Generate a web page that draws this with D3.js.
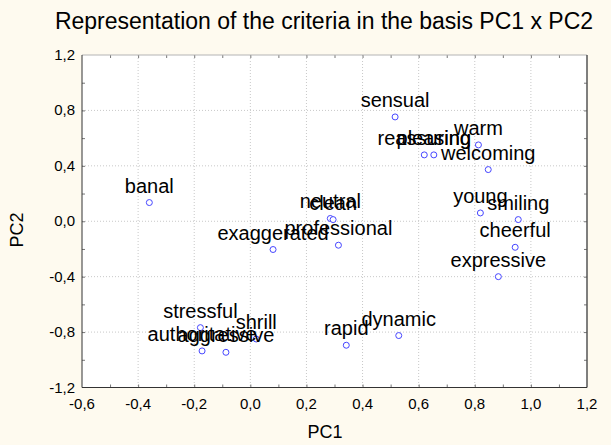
<!DOCTYPE html>
<html>
<head>
<meta charset="utf-8">
<script src="https://cdn.jsdelivr.net/npm/d3@7"></script>
<style>
	body { margin: 0; background: #fefaef; }
	text { font-family: Arial, "Liberation Sans", sans-serif; fill: #000; }
</style>
</head>
<body>
<script>

// criteria labels and their coordinates
var criteria = ["sensual", "reassuring", "pleasing", "warm", "welcoming", "banal",
	"neutral", "clean", "professional", "exaggerated", "young", "smiling",
	"cheerful", "expressive", "stressful", "authoritative", "aggressive",
	"shrill", "rapid", "dynamic"];
var pc1 = [0.516, 0.620, 0.654, 0.813, 0.848, -0.360,
	0.285, 0.295, 0.314, 0.081, 0.820, 0.955,
	0.944, 0.884, -0.178, -0.172, -0.087,
	0.021, 0.342, 0.529];
var pc2 = [0.753, 0.479, 0.479, 0.551, 0.373, 0.135,
	0.020, 0.012, -0.173, -0.204, 0.060, 0.012,
	-0.188, -0.400, -0.768, -0.936, -0.946,
	-0.850, -0.895, -0.825];

var xTicks = [-0.6, -0.4, -0.2, 0.0, 0.2, 0.4, 0.6, 0.8, 1.0, 1.2];
var yTicks = [-1.2, -0.8, -0.4, 0.0, 0.4, 0.8, 1.2];

var W = 611, H = 445;
var pLeft = 82, pRight = 587, pTop = 55, pBottom = 387.5;

var x = d3.scaleLinear().domain([-0.6, 1.2]).range([pLeft, pRight]);
var y = d3.scaleLinear().domain([-1.2, 1.2]).range([pBottom, pTop]);

var fmt = function (v) { return d3.format(".1f")(v).replace(".", ",").replace("−", "-"); };

var svg = d3.select("body").append("svg")
	.attr("width", W)
	.attr("height", H);

svg.append("rect")
	.attr("width", W).attr("height", H)
	.attr("fill", "#fefaef");

// plot area
svg.append("rect")
	.attr("x", pLeft).attr("y", pTop)
	.attr("width", pRight - pLeft).attr("height", pBottom - pTop)
	.attr("fill", "#fff");

// dotted grid
svg.append("g").selectAll("line")
	.data(xTicks.slice(1, -1))
	.enter().append("line")
	.attr("x1", function (d) { return x(d); })
	.attr("x2", function (d) { return x(d); })
	.attr("y1", pTop).attr("y2", pBottom)
	.attr("stroke", "#c8c8c8")
	.attr("stroke-dasharray", "1,2");

svg.append("g").selectAll("line")
	.data(yTicks.slice(1, -1))
	.enter().append("line")
	.attr("y1", function (d) { return y(d); })
	.attr("y2", function (d) { return y(d); })
	.attr("x1", pLeft).attr("x2", pRight)
	.attr("stroke", "#c8c8c8")
	.attr("stroke-dasharray", "1,2");

// inner ticks
var xMinor = d3.range(-0.5, 1.2, 0.1);
var yMinor = d3.range(-1.0, 1.2, 0.2);

function noDomain(g) { g.select(".domain").remove(); }

svg.append("g")
	.attr("transform", "translate(0," + pBottom + ")")
	.call(d3.axisTop(x).tickValues(xMinor).tickSize(3).tickFormat(""))
	.call(noDomain)
	.selectAll("line").attr("stroke", "#777");

svg.append("g")
	.attr("transform", "translate(0," + pTop + ")")
	.call(d3.axisBottom(x).tickValues(xMinor).tickSize(3).tickFormat(""))
	.call(noDomain)
	.selectAll("line").attr("stroke", "#777");

svg.append("g")
	.attr("transform", "translate(" + pLeft + ",0)")
	.call(d3.axisRight(y).tickValues(yMinor).tickSize(3).tickFormat(""))
	.call(noDomain)
	.selectAll("line").attr("stroke", "#777");

svg.append("g")
	.attr("transform", "translate(" + pRight + ",0)")
	.call(d3.axisLeft(y).tickValues(yMinor).tickSize(3).tickFormat(""))
	.call(noDomain)
	.selectAll("line").attr("stroke", "#777");

// frame
svg.append("line")
	.attr("x1", pLeft).attr("x2", pRight).attr("y1", pTop).attr("y2", pTop)
	.attr("stroke", "#b4b4b4");
svg.append("line")
	.attr("x1", pRight).attr("x2", pRight).attr("y1", pTop).attr("y2", pBottom)
	.attr("stroke", "#555").attr("stroke-width", 1.5);
svg.append("line")
	.attr("x1", pLeft).attr("x2", pLeft).attr("y1", pTop).attr("y2", pBottom)
	.attr("stroke", "#333");
svg.append("line")
	.attr("x1", pLeft).attr("x2", pRight).attr("y1", pBottom).attr("y2", pBottom)
	.attr("stroke", "#333");

// tick labels
svg.append("g").selectAll("text")
	.data(xTicks)
	.enter().append("text")
	.attr("x", function (d) { return x(d); })
	.attr("y", 409)
	.attr("font-size", "15px")
	.attr("text-anchor", "middle")
	.text(fmt);

svg.append("g").selectAll("text")
	.data(yTicks)
	.enter().append("text")
	.attr("x", 75)
	.attr("y", function (d) { return y(d) + 5; })
	.attr("font-size", "15px")
	.attr("text-anchor", "end")
	.text(fmt);

// titles
svg.append("text")
	.attr("x", 324)
	.attr("y", 29)
	.attr("font-size", "23px")
	.attr("text-anchor", "middle")
	.text("Representation of the criteria in the basis PC1 x PC2");

svg.append("text")
	.attr("x", 325)
	.attr("y", 438)
	.attr("font-size", "18px")
	.attr("text-anchor", "middle")
	.text("PC1");

svg.append("text")
	.attr("transform", "translate(23,230) rotate(-90)")
	.attr("font-size", "18px")
	.attr("text-anchor", "middle")
	.text("PC2");

// points and labels
var idx = d3.range(criteria.length);

svg.append("g").selectAll("circle")
	.data(idx)
	.enter().append("circle")
	.attr("cx", function (i) { return x(pc1[i]); })
	.attr("cy", function (i) { return y(pc2[i]); })
	.attr("r", 3)
	.attr("fill", "#fff")
	.attr("stroke", "#4646ff")
	.attr("stroke-width", 1);

svg.append("g").selectAll("text")
	.data(idx)
	.enter().append("text")
	.attr("x", function (i) { return x(pc1[i]); })
	.attr("y", function (i) { return y(pc2[i]) - 10; })
	.attr("font-size", "20px")
	.attr("text-anchor", "middle")
	.text(function (i) { return criteria[i]; });

</script>
</body>
</html>
